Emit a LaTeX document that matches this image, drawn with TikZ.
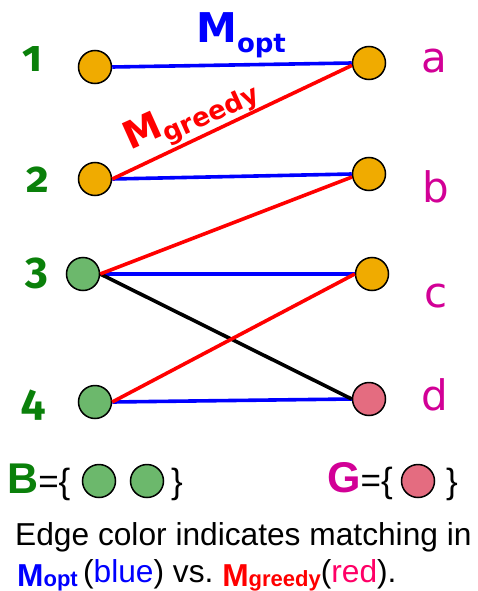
\documentclass[tikz,border=0pt]{standalone}
\usepackage{fontspec}
\setmainfont{Liberation Sans}
\newfontfamily\djfont{DejaVu Sans}
\newfontfamily\numfont[Numbers=OldStyle]{Fira Sans}
\definecolor{orangec}{RGB}{240,171,0}
\definecolor{greenc}{RGB}{108,184,108}
\definecolor{pinkc}{RGB}{228,108,128}
\definecolor{labgreen}{RGB}{10,128,10}
\definecolor{labmag}{RGB}{210,0,150}
\definecolor{redtext}{RGB}{255,0,102}
\newcommand{\fsz}[1]{\fontsize{#1}{#1}\selectfont}
\begin{document}
\begin{tikzpicture}[x=1pt,y=-1pt,
  vtx/.style={circle,draw=black,line width=1.5pt,minimum size=33pt,inner sep=0pt},
  ov/.style={vtx,fill=orangec},
  gv/.style={vtx,fill=greenc},
  pv/.style={vtx,fill=pinkc},
  optedge/.style={draw=blue,line width=3.6pt},
  greedyedge/.style={draw=red,line width=3.6pt},
  otheredge/.style={draw=black,line width=3.6pt},
  numlab/.style={inner sep=0pt,anchor=base,text=labgreen,font=\numfont\bfseries\fsz{44}},
  letlab/.style={inner sep=0pt,anchor=base,text=labmag,font=\djfont\fsz{42}},
  txt/.style={inner sep=0pt,anchor=base west}
]
\useasboundingbox (0,0) rectangle (477,591);
% vertices
\node[ov] (n1) at (95,67) {};
\node[ov] (n2) at (95,179) {};
\node[gv] (n3) at (83,274) {};
\node[gv] (n4) at (95,402) {};
\node[ov] (na) at (369,63) {};
\node[ov] (nb) at (369,174) {};
\node[ov] (nc) at (372,274) {};
\node[pv] (nd) at (369,399) {};
% edges
\draw[optedge] (n1.east) -- (na.west);
\draw[optedge] (n2.east) -- (nb.west);
\draw[optedge] (n3.east) -- (nc.west);
\draw[optedge] (n4.east) -- (nd.west);
\draw[otheredge] (n3.east) -- (nd.west);
\draw[greedyedge] (n2.east) -- (na.188);
\draw[greedyedge] (n3.east) -- (nb.190);
\draw[greedyedge] (n4.east) -- (nc.west);
% labels
\node[numlab] (l1) at (32,72) {1};
\node[numlab] (l2) at (38,192) {2};
\node[numlab] (l3) at (37,283) {3};
\node[numlab] (l4) at (33,415) {4};
\node[letlab] (la) at (434,73) {a};
\node[letlab] (lb) at (436,202) {b};
\node[letlab] (lc) at (436,307) {c};
\node[letlab] (ld) at (435,410) {d};
% matching names
\node[txt,text=blue,font=\djfont\bfseries] (mopt) at (196,43)
  {\fsz{41}M\raisebox{-10pt}{\fsz{26}opt}};
\node[txt,text=red,font=\djfont\bfseries,rotate=24.2] (mgreedy) at (130,151)
  {\fsz{38}M\raisebox{-8pt}{\fsz{26}greedy}};
% sets
\node[txt,font=\fsz{35}] (bset) at (7,493) {\textcolor{labgreen}{\fsz{43}\bfseries B}=\{};
\node[gv] (b1) at (99,481) {};
\node[gv] (b2) at (147,481) {};
\node[txt,font=\fsz{35}] (bend) at (171,493) {\}};
\node[txt,font=\fsz{35}] (gset) at (327,492) {\textcolor{labmag}{\fsz{43}\bfseries G}=\{};
\node[pv] (g1) at (418,481) {};
\node[txt,font=\fsz{35}] (gend) at (446,493) {\}};
% caption
\node[txt,font=\fsz{31.7}] (cap1) at (15,545) {Edge color indicates matching in};
\node[txt,font=\fsz{31.7}] (cap2) at (17,582)
  {\textcolor{blue}{\bfseries\raisebox{-4pt}{M\fsz{22}opt}}\,(\textcolor{blue}{blue})\ vs.\
   \textcolor{red}{\bfseries\raisebox{-4pt}{M\fsz{22}greedy}}(\textcolor{redtext}{red}).};
\end{tikzpicture}
\end{document}
